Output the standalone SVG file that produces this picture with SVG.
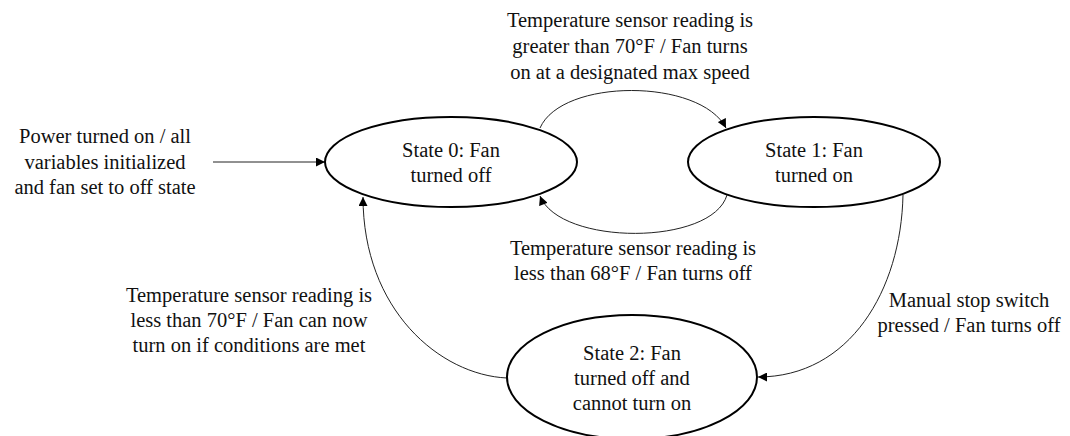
<svg xmlns="http://www.w3.org/2000/svg" width="1070" height="436" viewBox="0 0 1070 436" font-family="'Liberation Serif', 'Times New Roman', 'DejaVu Serif', serif">
<style>
text{font-family:'Liberation Serif','Times New Roman','DejaVu Serif',serif;font-size:20.5px;fill:#111;text-anchor:middle}
.st{fill:#fff;stroke:#000;stroke-width:2}
.c{fill:none;stroke:#222;stroke-width:1}
</style>
<defs>
<marker id="ah" viewBox="0 0 10 10" refX="10" refY="5" markerWidth="10" markerHeight="9" markerUnits="userSpaceOnUse" orient="auto">
<path d="M0,0 L10,5 L0,10 z" fill="#000"/>
</marker>
</defs>
<rect width="1070" height="436" fill="#fff"/>
<g id="connectors">
<path class="c" d="M213,162 L325,162" marker-end="url(#ah)"/>
<path class="c" d="M540,128 C562,78 700,78 726,128" marker-end="url(#ah)"/>
<path class="c" d="M727,195 C712,246 560,246 540,196" marker-end="url(#ah)"/>
<path class="c" d="M903,195 C901,290 850,377 758,377" marker-end="url(#ah)"/>
<path class="c" d="M507,378 C440,375 363,310 363,197" marker-end="url(#ah)"/>
</g>
<g id="state0">
<ellipse class="st" cx="451" cy="162" rx="126" ry="45"/>
<text x="451" y="157">State 0: Fan</text>
<text x="451" y="182">turned off</text>
</g>
<g id="state1">
<ellipse class="st" cx="814" cy="162" rx="126" ry="45"/>
<text x="814" y="157">State 1: Fan</text>
<text x="814" y="182">turned on</text>
</g>
<g id="state2">
<ellipse class="st" cx="632" cy="377" rx="125" ry="62"/>
<text x="632" y="360">State 2: Fan</text>
<text x="632" y="385">turned off and</text>
<text x="632" y="410">cannot turn on</text>
</g>
<g id="labels">
<text x="630" y="27">Temperature sensor reading is</text>
<text x="630" y="53">greater than 70°F / Fan turns</text>
<text x="630" y="79">on at a designated max speed</text>
<text x="105" y="143">Power turned on / all</text>
<text x="105" y="169">variables initialized</text>
<text x="105" y="194">and fan set to off state</text>
<text x="633" y="255">Temperature sensor reading is</text>
<text x="633" y="280">less than 68°F / Fan turns off</text>
<text x="969" y="307">Manual stop switch</text>
<text x="969" y="332">pressed / Fan turns off</text>
<text x="249" y="302">Temperature sensor reading is</text>
<text x="249" y="327">less than 70°F / Fan can now</text>
<text x="249" y="352">turn on if conditions are met</text>
</g>
</svg>
